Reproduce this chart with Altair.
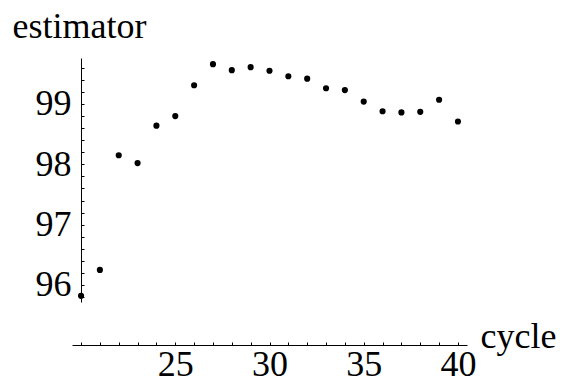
import altair as alt
import pandas as pd

cycle = [20, 21, 22, 23, 24, 25, 26, 27, 28, 29, 30, 31, 32, 33, 34, 35, 36, 37, 38, 39, 40]
estimator = [95.82, 96.25, 98.15, 98.02, 98.64, 98.80, 99.31, 99.66, 99.56, 99.61, 99.55,
             99.46, 99.42, 99.26, 99.23, 99.04, 98.88, 98.86, 98.87, 99.07, 98.71]
x_labels = [25, 30, 35, 40]
y_labels = [96, 97, 98, 99]
x_ticks = [20, 21, 22, 23, 24, 25, 26, 27, 28, 29, 30, 31, 32, 33, 34, 35, 36, 37, 38, 39, 40]
y_ticks = [95.8, 96.0, 96.2, 96.4, 96.6, 96.8, 97.0, 97.2, 97.4, 97.6, 97.8,
           98.0, 98.2, 98.4, 98.6, 98.8, 99.0, 99.2, 99.4, 99.6]

df = pd.DataFrame({"cycle": cycle, "estimator": estimator})

FONT = "Liberation Serif"
FS = 36
xdom = [19.52, 40.48]
ydom = [95.718, 99.762]

xscale = alt.Scale(domain=xdom, nice=False, zero=False)
yscale = alt.Scale(domain=ydom, nice=False, zero=False)

base = alt.Chart(df)

main = base.mark_circle(size=38, color="black", opacity=1).encode(
    x=alt.X("cycle:Q", scale=xscale,
            axis=alt.Axis(orient="bottom", offset=43, values=x_labels, ticks=False, grid=False,
                          domainColor="black", domainWidth=1,
                          labelFont=FONT, labelFontSize=FS, labelColor="black", labelPadding=2,
                          labelFlush=False,
                          title="cycle", titleFont=FONT, titleFontSize=FS, titleFontWeight="normal",
                          titleColor="black", titleAngle=0, titleAlign="left",
                          titleBaseline="alphabetic", titleX=408, titleY=2)),
    y=alt.Y("estimator:Q", scale=yscale,
            axis=alt.Axis(orient="left", offset=-9, values=y_labels, ticks=False, grid=False,
                          domainColor="black", domainWidth=1,
                          labelFont=FONT, labelFontSize=FS, labelColor="black", labelPadding=10,
                          labelBaseline="middle", labelFlush=False,
                          title="estimator", titleFont=FONT, titleFontSize=FS,
                          titleFontWeight="normal", titleColor="black", titleAngle=0,
                          titleAlign="left", titleBaseline="alphabetic", titleX=-69, titleY=-21)),
)

tick_layer = base.mark_circle(size=38, color="black", opacity=0).encode(
    x=alt.X("cycle:Q", scale=xscale,
            axis=alt.Axis(orient="top", offset=-287, values=x_ticks, labels=False, domain=False,
                          grid=False, ticks=True, tickSize=3, tickColor="black", tickWidth=1,
                          title="")),
    y=alt.Y("estimator:Q", scale=yscale,
            axis=alt.Axis(orient="right", offset=-386, values=y_ticks, labels=False, domain=False,
                          grid=False, ticks=True, tickSize=3, tickColor="black", tickWidth=1,
                          title="")),
)

chart = alt.layer(main, tick_layer).resolve_scale(
    x="independent", y="independent"
).properties(
    width=395, height=244,
    autosize=alt.AutoSizeParams(type="none"),
    padding={"left": 72, "top": 58, "right": 97, "bottom": 81},
    background="white",
).configure(
    font=FONT,
    view=alt.ViewConfig(strokeWidth=0, stroke="transparent"),
)

chart.save("out.html", embed_options={"renderer": "svg", "actions": False})
